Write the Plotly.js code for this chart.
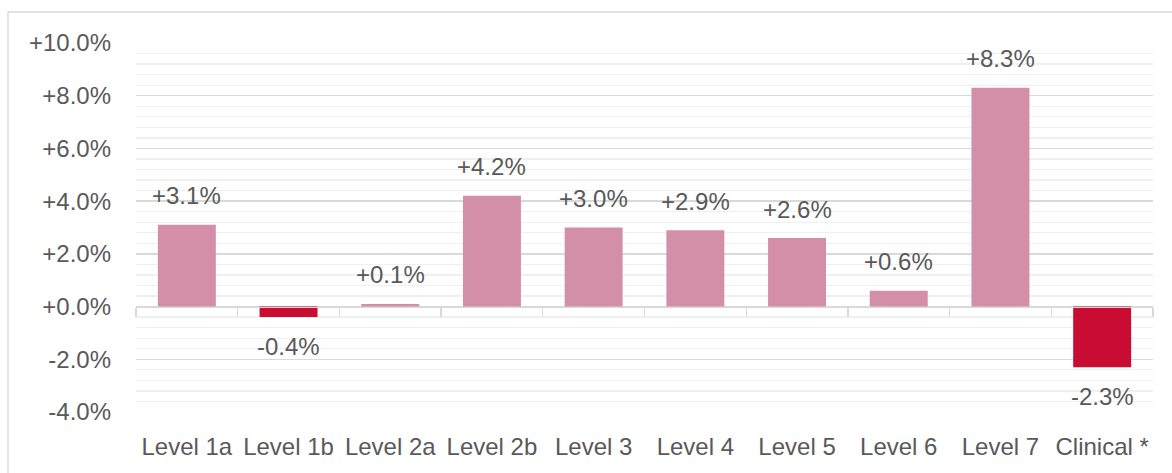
<!DOCTYPE html>
<html>
<head>
<meta charset="utf-8">
<script src="https://cdn.plot.ly/plotly-3.0.1.min.js"></script>
<style>
html,body{margin:0;padding:0;background:#fff;}
#chart{width:1172px;height:473px;}
</style>
</head>
<body>
<div id="chart"></div>
<script>
const categories = ["Level 1a","Level 1b","Level 2a","Level 2b","Level 3","Level 4","Level 5","Level 6","Level 7","Clinical *"];
const changes = [3.1, -0.4, 0.1, 4.2, 3.0, 2.9, 2.6, 0.6, 8.3, -2.3];
const yTickVals = [-4, -2, 0, 2, 4, 6, 8, 10];
const yTickText = ["-4.0%","-2.0%","+0.0%","+2.0%","+4.0%","+6.0%","+8.0%","+10.0%"];

const POS = "#D48FA8", NEG = "#C80C32";
const FONT = "Liberation Sans, Arial, sans-serif";
const TXT = "#595959";

const fmt = v => (v >= 0 ? "+" : "-") + Math.abs(v).toFixed(1) + "%";

const bars = {
  type: "bar",
  x: categories,
  y: changes,
  marker: {color: changes.map(v => v >= 0 ? POS : NEG)},
  width: 0.57,
  hoverinfo: "skip"
};
const zeroAxisTrace = {
  type: "scatter",
  mode: "markers",
  x: categories,
  y: changes,
  xaxis: "x2",
  marker: {opacity: 0},
  hoverinfo: "skip",
  showlegend: false
};

const annotations = categories.map((c, i) => ({
  x: c, y: changes[i], xref: "x", yref: "y",
  text: fmt(changes[i]),
  showarrow: false,
  yanchor: "middle",
  yshift: changes[i] >= 0 ? 29 : -29,
  font: {family: FONT, size: 24, color: TXT}
}));

const layout = {
  width: 1172, height: 473,
  margin: {l: 136, r: 19, t: 43, b: 61},
  paper_bgcolor: "#fff", plot_bgcolor: "#fff",
  showlegend: false,
  font: {family: FONT, size: 24, color: TXT},
  xaxis: {
    type: "category",
    categoryarray: categories,
    range: [-0.5, 9.5],
    showline: false, showgrid: false, zeroline: false,
    ticks: "",
    ticklabelstandoff: 18,
    tickfont: {family: FONT, size: 24, color: TXT}
  },
  xaxis2: {
    type: "category",
    categoryarray: categories,
    range: [-0.5, 9.5],
    overlaying: "x",
    anchor: "free",
    position: 4/14,
    side: "bottom",
    showline: true, linecolor: "#D9D9D9", linewidth: 1.3,
    showgrid: false, zeroline: false,
    ticks: "outside", tickson: "boundaries", ticklen: 9, tickcolor: "#D9D9D9", tickwidth: 1.3,
    showticklabels: false
  },
  yaxis: {
    range: [-4, 10],
    tickvals: yTickVals,
    ticktext: yTickText,
    showgrid: true, gridcolor: "#D9D9D9", gridwidth: 1.3,
    zeroline: false, showline: false, ticks: "",
    ticklabelstandoff: 24,
    tickfont: {family: FONT, size: 24, color: TXT},
    minor: {dtick: 0.4, tick0: 0, showgrid: true, gridcolor: "#F0F0F0", gridwidth: 1.3}
  },
  annotations: annotations,
  shapes: [{
    type: "rect", xref: "paper", yref: "paper",
    x0: (8 - 136) / 1017, x1: 1.2, y0: -0.5, y1: 1 + 31 / 369,
    line: {color: "#D9D9D9", width: 1.3}, fillcolor: "rgba(0,0,0,0)", layer: "below"
  }]
};

Plotly.newPlot("chart", [bars, zeroAxisTrace], layout, {displayModeBar: false, staticPlot: true});
</script>
</body>
</html>
